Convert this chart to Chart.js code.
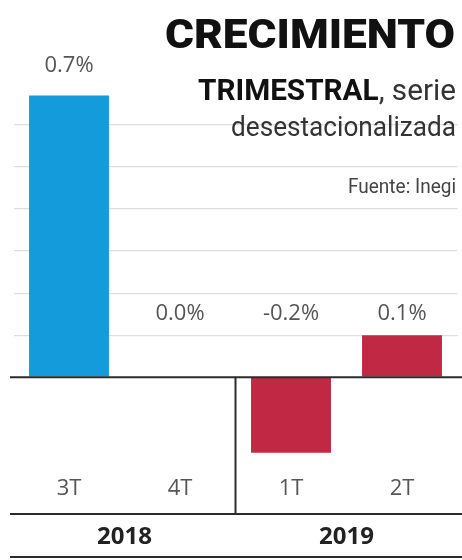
<!DOCTYPE html>
<html>
<head>
<meta charset="utf-8">
<script src="https://cdn.jsdelivr.net/npm/chart.js@4"></script>
<style>
html,body{margin:0;padding:0;background:#fff;}
#wrap{width:462px;height:560px;position:relative;}
</style>
</head>
<body>
<div id="wrap"><canvas id="c" width="462" height="560"></canvas></div>
<script>
const categories = ['3T', '4T', '1T', '2T'];
const values = [0.67, 0.0, -0.18, 0.1];
const valueLabels = ['0.7%', '0.0%', '-0.2%', '0.1%'];
const years = ['2018', '2019'];
const yearOf = [0, 0, 1, 1];
const yearColors = ['#149bdb', '#c02844'];
const titleMain = 'CRECIMIENTO';
const titleBold = 'TRIMESTRAL';
const titleRest = ', serie';
const titleLine3 = 'desestacionalizada';
const source = 'Fuente: Inegi';

function drawFit(ctx, text, font, color, right, baseline, width) {
  ctx.save();
  ctx.font = font;
  ctx.fillStyle = color;
  ctx.textBaseline = 'alphabetic';
  ctx.textAlign = 'left';
  const w = ctx.measureText(text).width;
  const s = width / w;
  ctx.translate(right - width, baseline);
  ctx.scale(s, 1);
  ctx.fillText(text, 0, 0);
  ctx.restore();
}

const decor = {
  id: 'decor',
  afterDatasetsDraw(chart) {
    const ctx = chart.ctx;
    const x = chart.scales.x, y = chart.scales.y;
    const y0 = y.getPixelForValue(0);
    ctx.save();
    // baseline
    ctx.strokeStyle = '#2b2b2b';
    ctx.lineWidth = 2;
    ctx.beginPath(); ctx.moveTo(10, y0); ctx.lineTo(462, y0); ctx.stroke();
    // year separator
    const sep = (x.getPixelForValue(1) + x.getPixelForValue(2)) / 2;
    ctx.beginPath(); ctx.moveTo(sep, y0); ctx.lineTo(sep, 514); ctx.stroke();
    ctx.beginPath(); ctx.moveTo(10, 514); ctx.lineTo(462, 514); ctx.stroke();
    ctx.beginPath(); ctx.moveTo(10, 557); ctx.lineTo(462, 557); ctx.stroke();
    // years
    ctx.font = 'bold 24px "Open Sans"';
    ctx.fillStyle = '#222';
    ctx.textAlign = 'center';
    ctx.textBaseline = 'middle';
    years.forEach((yr, i) => {
      const idx = yearOf.map((g, k) => g === i ? k : -1).filter(k => k >= 0);
      const cx = (x.getPixelForValue(idx[0]) + x.getPixelForValue(idx[idx.length - 1])) / 2;
      ctx.fillText(yr, cx, 537);
    });
    // value labels
    ctx.font = '22px "Open Sans"';
    ctx.fillStyle = '#555';
    values.forEach((v, i) => {
      const anchor = v > 0.3 ? v + 0.07 : 0.152;
      ctx.fillText(valueLabels[i], x.getPixelForValue(i), y.getPixelForValue(anchor));
    });
    ctx.restore();
    // titles
    drawFit(ctx, titleMain, '900 40px Roboto', '#111', 455, 48, 290);
    ctx.save();
    const fb = 'bold 29px Roboto', fr = '29px Roboto';
    ctx.font = fb; const wb = ctx.measureText(titleBold).width;
    ctx.font = fr; const wr = ctx.measureText(titleRest).width;
    const total = 258, s = total / (wb + wr);
    ctx.translate(456 - total, 100);
    ctx.scale(s, 1);
    ctx.textBaseline = 'alphabetic';
    ctx.fillStyle = '#111';
    ctx.font = fb; ctx.fillText(titleBold, 0, 0);
    ctx.fillStyle = '#333';
    ctx.font = fr; ctx.fillText(titleRest, wb, 0);
    ctx.restore();
    drawFit(ctx, titleLine3, '27px Roboto', '#333', 456, 136, 225);
    drawFit(ctx, source, '20px Roboto', '#444', 456, 193, 108);
  }
};

new Chart(document.getElementById('c'), {
  type: 'bar',
  data: {
    labels: categories,
    datasets: [{
      data: values,
      backgroundColor: values.map((v, i) => yearColors[yearOf[i]]),
      borderWidth: 0,
      barPercentage: 0.72,
      categoryPercentage: 1.0
    }]
  },
  options: {
    responsive: false,
    animation: false,
    devicePixelRatio: 1,
    layout: { padding: { top: 83, left: 13.5, right: 4.5, bottom: 52 } },
    plugins: { legend: { display: false }, tooltip: { enabled: false }, title: { display: false } },
    scales: {
      x: {
        grid: { display: false, drawTicks: false },
        border: { display: false },
        ticks: { color: '#555', font: { family: 'Open Sans', size: 22 }, padding: 6, maxRotation: 0 }
      },
      y: {
        min: -0.22,
        max: 0.7,
        border: { display: false },
        ticks: { display: false, stepSize: 0.1 },
        grid: {
          drawTicks: false,
          lineWidth: 1.2,
          color: (c) => {
            const v = c.tick ? c.tick.value : 0;
            return (v > 0.05 && v < 0.65) ? '#dedede' : 'rgba(0,0,0,0)';
          }
        }
      }
    }
  },
  plugins: [decor]
});
</script>
</body>
</html>
